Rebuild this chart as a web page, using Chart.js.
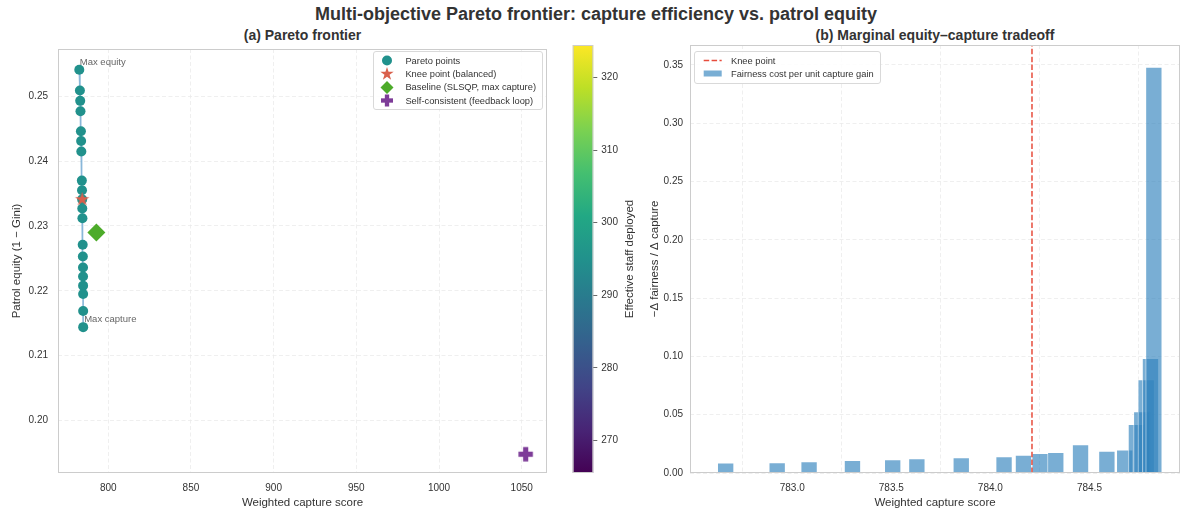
<!DOCTYPE html>
<html lang="en">
<head>
<meta charset="UTF-8">
<title>Pareto frontier</title>
<script src="https://cdn.jsdelivr.net/npm/chart.js"></script>
<style>
  body { margin: 0; background: #fff; font-family: "Liberation Sans", Arial, sans-serif; color: #333; }
  #page { position: relative; width: 1192px; height: 510px; overflow: hidden; }
  canvas { position: absolute; }
  .suptitle { position: absolute; left: 0; top: 4px; width: 1192px; text-align: center; font-weight: bold; font-size: 18px; line-height: 20px; }
  .subtitle { position: absolute; top: 27px; text-align: center; font-weight: bold; font-size: 14px; line-height: 16px; }
  .legend { position: absolute; border: 1px solid #d9d9d9; border-radius: 3px; background: rgba(255,255,255,0.85); font-size: 9.3px; padding: 2px 6px 2px 0; }
  .legend .row { display: flex; align-items: center; height: 13.3px; white-space: nowrap; }
  .legend canvas { position: static; flex: none; margin-right: 4px; }
</style>
</head>
<body>
<div id="page">
  <div class="suptitle">Multi-objective Pareto frontier: capture efficiency vs. patrol equity</div>
  <div class="subtitle" style="left:58px;width:489px">(a) Pareto frontier</div>
  <div class="subtitle" style="left:690px;width:490px">(b) Marginal equity–capture tradeoff</div>

  <canvas id="left" width="560" height="470" style="left:0;top:40px"></canvas>
  <canvas id="cbar" width="80" height="470" style="left:560px;top:40px"></canvas>
  <canvas id="right" width="552" height="470" style="left:640px;top:40px"></canvas>

  <div class="legend" id="legLeft" style="right:649px;top:51px"></div>
  <div class="legend" id="legRight" style="left:694px;top:51px"></div>
</div>

<script>
// Pareto frontier (panel a), sorted by capture
const captureScore = [782.47, 782.85, 783.03, 783.19, 783.45, 783.58, 783.70, 784.02, 784.12, 784.21,
                      784.29, 784.37, 784.53, 784.63, 784.72, 784.75, 784.775, 784.79, 784.815, 784.83];
const patrolEquity = [0.2541, 0.2509, 0.2493, 0.2477, 0.2446, 0.2431, 0.2415, 0.2370, 0.2355, 0.2341,
                      0.2327, 0.2312, 0.2271, 0.2253, 0.2236, 0.2222, 0.2208, 0.2195, 0.2169, 0.2144];
const staffDeployed = [295, 295, 295, 295, 295, 295, 295, 295, 295, 295,
                       295, 295, 295, 295, 295, 295, 295, 295, 295, 295];
const kneeIndex = 9;
const baselinePoint = { x: 792.8, y: 0.2290 };
const selfConsistentPoint = { x: 1052.4, y: 0.1948 };

// marginal tradeoff (panel b)
const barCapture = [782.664, 782.924, 783.085, 783.304, 783.507, 783.629, 783.853, 784.069, 784.167, 784.251,
                    784.330, 784.455, 784.588, 784.678, 784.737, 784.764, 784.786, 784.808, 784.825];
const barCost = [0.0086, 0.0088, 0.0097, 0.0106, 0.0114, 0.0123, 0.0131, 0.0140, 0.0152, 0.0166,
                 0.0176, 0.0243, 0.0186, 0.0197, 0.0416, 0.0526, 0.0800, 0.0982, 0.3478];

// axes
const leftXRange = [769.6, 1065.3];
const leftYRange = [0.1919, 0.2573];
const leftXTicks = [800, 850, 900, 950, 1000, 1050];
const leftYTicks = [0.20, 0.21, 0.22, 0.23, 0.24, 0.25];
const cbRange = [265.5, 324.5];
const cbTicks = [270, 280, 290, 300, 310, 320];
const rightXRange = [782.484, 784.957];
const rightYRange = [0, 0.367];
const rightXTicks = [783.0, 783.5, 784.0, 784.5];
const rightYTicks = [0, 0.05, 0.10, 0.15, 0.20, 0.25, 0.30, 0.35];

const viridis = ['#440154', '#482475', '#414487', '#355f8d', '#2a788e', '#21918c',
                 '#22a884', '#44bf70', '#7ad151', '#bddf26', '#fde725'];

const FONT = '"Liberation Sans", Arial, sans-serif';
Chart.defaults.font.family = FONT;
Chart.defaults.font.size = 10;
Chart.defaults.color = '#333';
Chart.defaults.animation = false;
Chart.defaults.events = [];
Chart.defaults.plugins.legend.display = false;
Chart.defaults.plugins.tooltip.enabled = false;

function hexToRgb(h) {
  return [parseInt(h.slice(1, 3), 16), parseInt(h.slice(3, 5), 16), parseInt(h.slice(5, 7), 16)];
}
function viridisAt(t) {
  t = Math.max(0, Math.min(1, t));
  const p = t * (viridis.length - 1), i = Math.min(Math.floor(p), viridis.length - 2), f = p - i;
  const a = hexToRgb(viridis[i]), b = hexToRgb(viridis[i + 1]);
  return 'rgb(' + a.map((v, k) => Math.round(v + (b[k] - v) * f)).join(',') + ')';
}

// marker shapes
function drawCircle(ctx, cx, cy, r, color) {
  ctx.beginPath(); ctx.arc(cx, cy, r, 0, Math.PI * 2); ctx.fillStyle = color; ctx.fill();
}
function drawStar(ctx, cx, cy, r, color) {
  ctx.beginPath();
  for (let i = 0; i < 10; i++) {
    const a = -Math.PI / 2 + i * Math.PI / 5;
    const rr = i % 2 ? r * 0.382 : r;
    ctx.lineTo(cx + rr * Math.cos(a), cy + rr * Math.sin(a));
  }
  ctx.closePath(); ctx.fillStyle = color; ctx.fill();
}
function drawDiamond(ctx, cx, cy, r, color) {
  ctx.beginPath();
  ctx.moveTo(cx, cy - r); ctx.lineTo(cx + r, cy); ctx.lineTo(cx, cy + r); ctx.lineTo(cx - r, cy);
  ctx.closePath(); ctx.fillStyle = color; ctx.fill();
}
function drawPlus(ctx, cx, cy, r, color) {
  const t = r * 0.36;
  ctx.fillStyle = color;
  ctx.fillRect(cx - r, cy - t, 2 * r, 2 * t);
  ctx.fillRect(cx - t, cy - r, 2 * t, 2 * r);
}
function markerCanvas(fn, r, color) {
  const c = document.createElement('canvas');
  const s = Math.ceil(2 * r + 2);
  c.width = s; c.height = s;
  fn(c.getContext('2d'), s / 2, s / 2, r, color);
  return c;
}

const PARETO = viridisAt((staffDeployed[0] - cbRange[0]) / (cbRange[1] - cbRange[0]));
const KNEE = '#d9604c', BASE = '#4dab2a', SELF = '#7d3c98';
const starImg = markerCanvas(drawStar, 7.5, KNEE);
const plusImg = markerCanvas(drawPlus, 7.2, SELF);

const frame = {
  id: 'frame',
  afterDraw(chart) {
    const a = chart.chartArea, ctx = chart.ctx;
    ctx.save();
    ctx.strokeStyle = '#cccccc'; ctx.lineWidth = 1;
    ctx.strokeRect(a.left + 0.5, a.top + 0.5, a.right - a.left - 1, a.bottom - a.top - 1);
    ctx.restore();
  }
};

function fixedTicks(list) {
  return s => { s.ticks = list.map(v => ({ value: v })); };
}
// fix the axis box size and drop label overhang padding
function fitBox(w, h) {
  return s => {
    if (w !== null) s.width = w;
    if (h !== null) s.height = h;
    s.paddingTop = 0; s.paddingBottom = 0; s.paddingLeft = 0; s.paddingRight = 0;
  };
}
const gridStyle = { color: '#ebebeb', lineWidth: 0.8, drawTicks: false };
const borderStyle = { display: false, dash: [4, 2.5] };

// ---- panel a ----
const pareto = captureScore.map((c, i) => ({ x: c, y: patrolEquity[i] }));
const annotations = [
  { text: 'Max equity', x: captureScore[0], y: patrolEquity[0], dx: 0.5, dy: -5 },
  { text: 'Max capture', x: captureScore[captureScore.length - 1], y: patrolEquity[patrolEquity.length - 1], dx: 1, dy: -5 }
];
const annotate = {
  id: 'annotate',
  afterDatasetsDraw(chart) {
    const { ctx, scales: { x, y } } = chart;
    ctx.save();
    ctx.font = '9.5px ' + FONT; ctx.fillStyle = '#666';
    annotations.forEach(a => ctx.fillText(a.text, x.getPixelForValue(a.x) + a.dx, y.getPixelForValue(a.y) + a.dy));
    ctx.restore();
  }
};

new Chart(document.getElementById('left'), {
  type: 'scatter',
  data: {
    datasets: [
      { data: pareto, showLine: true, borderColor: 'rgba(74,144,196,0.65)', borderWidth: 1.6, pointRadius: 0, order: 5 },
      { label: 'Pareto points', data: pareto, pointRadius: 5, backgroundColor: staffDeployed.map(s => viridisAt((s - cbRange[0]) / (cbRange[1] - cbRange[0]))), borderWidth: 0, order: 4 },
      { label: 'Knee point (balanced)', data: [pareto[kneeIndex]], pointStyle: starImg, order: 3 },
      { label: 'Baseline (SLSQP, max capture)', data: [baselinePoint], pointStyle: 'rectRot', pointRadius: 9, backgroundColor: BASE, borderWidth: 0, order: 2 },
      { label: 'Self-consistent (feedback loop)', data: [selfConsistentPoint], pointStyle: plusImg, order: 1 }
    ]
  },
  options: {
    responsive: false,
    layout: { padding: { top: 5, right: 13, bottom: 0, left: 0 } },
    scales: {
      x: {
        type: 'linear', min: leftXRange[0], max: leftXRange[1],
        afterBuildTicks: fixedTicks(leftXTicks), afterFit: fitBox(null, 37),
        ticks: { padding: 9, autoSkip: false, maxRotation: 0, callback: v => String(v) },
        grid: gridStyle, border: borderStyle,
        title: { display: true, text: 'Weighted capture score', font: { size: 11.5 }, padding: { top: 0, bottom: 0 } }
      },
      y: {
        min: leftYRange[0], max: leftYRange[1],
        afterBuildTicks: fixedTicks(leftYTicks), afterFit: fitBox(58, null),
        ticks: { padding: 10, callback: v => v.toFixed(2) },
        grid: gridStyle, border: borderStyle,
        title: { display: true, text: 'Patrol equity (1 − Gini)', font: { size: 11.5 }, padding: { top: 10, bottom: 0 } }
      }
    }
  },
  plugins: [annotate, frame]
});

// ---- colour bar ----
const cbLabel = {
  id: 'cbLabel',
  afterDraw(chart) {
    const ctx = chart.ctx, a = chart.chartArea;
    ctx.save();
    ctx.translate(70, (a.top + a.bottom) / 2);
    ctx.rotate(-Math.PI / 2);
    ctx.textAlign = 'center'; ctx.textBaseline = 'middle';
    ctx.font = '11.5px ' + FONT; ctx.fillStyle = '#333';
    ctx.fillText('Effective staff deployed', 0, 0);
    ctx.restore();
  }
};
new Chart(document.getElementById('cbar'), {
  type: 'bar',
  data: {
    labels: [''],
    datasets: [{
      data: [cbRange],
      barPercentage: 1, categoryPercentage: 1, borderWidth: 0,
      backgroundColor: c => {
        const a = c.chart.chartArea;
        if (!a) return PARETO;
        const g = c.chart.ctx.createLinearGradient(0, a.bottom, 0, a.top);
        viridis.forEach((col, i) => g.addColorStop(i / (viridis.length - 1), col));
        return g;
      }
    }]
  },
  options: {
    responsive: false,
    layout: { padding: { top: 5, right: 0, bottom: 37, left: 12.7 } },
    scales: {
      x: { display: false },
      y: {
        position: 'right', min: cbRange[0], max: cbRange[1],
        afterBuildTicks: fixedTicks(cbTicks), afterFit: fitBox(46.7, null),
        ticks: { padding: 4 },
        grid: { drawOnChartArea: false, drawTicks: true, tickLength: 4, tickColor: '#444', tickWidth: 0.8 },
        border: { display: false }
      }
    }
  },
  plugins: [frame, cbLabel]
});

// ---- panel b ----
new Chart(document.getElementById('right'), {
  type: 'bar',
  data: {
    datasets: [
      { type: 'line', label: 'Knee point', data: [{ x: captureScore[kneeIndex], y: rightYRange[0] }, { x: captureScore[kneeIndex], y: rightYRange[1] }],
        borderColor: '#e74c3c', borderWidth: 1.5, borderDash: [5.5, 2.4], pointRadius: 0, order: 0 },
      { label: 'Fairness cost per unit capture gain', data: barCapture.map((c, i) => ({ x: c, y: barCost[i] })),
        backgroundColor: 'rgba(49,130,189,0.65)', borderColor: 'rgba(255,255,255,0.6)', borderWidth: 0.8,
        barThickness: 16.3, order: 1 }
    ]
  },
  options: {
    responsive: false,
    layout: { padding: { top: 5, right: 12, bottom: 0, left: 0 } },
    scales: {
      x: {
        type: 'linear', offset: false, min: rightXRange[0], max: rightXRange[1],
        afterBuildTicks: fixedTicks(rightXTicks), afterFit: fitBox(null, 37),
        ticks: { padding: 9, autoSkip: false, maxRotation: 0, callback: v => v.toFixed(1) },
        grid: gridStyle, border: borderStyle,
        title: { display: true, text: 'Weighted capture score', font: { size: 11.5 }, padding: { top: 0, bottom: 0 } }
      },
      y: {
        min: rightYRange[0], max: rightYRange[1],
        afterBuildTicks: fixedTicks(rightYTicks), afterFit: fitBox(50, null),
        ticks: { padding: 7, callback: v => v.toFixed(2) },
        grid: gridStyle, border: borderStyle,
        title: { display: true, text: '−Δ fairness / Δ capture', font: { size: 11.5 }, padding: { top: 8.4, bottom: 0 } }
      }
    }
  },
  plugins: [frame]
});

// ---- legends ----
function legend(id, rows, w) {
  const box = document.getElementById(id);
  rows.forEach(r => {
    const row = document.createElement('div');
    row.className = 'row';
    const c = document.createElement('canvas');
    c.width = w; c.height = 13;
    r.draw(c.getContext('2d'));
    row.appendChild(c);
    const t = document.createElement('span');
    t.textContent = r.label;
    row.appendChild(t);
    box.appendChild(row);
  });
}
legend('legLeft', [
  { label: 'Pareto points', draw: ctx => drawCircle(ctx, 13, 6.5, 5, PARETO) },
  { label: 'Knee point (balanced)', draw: ctx => drawStar(ctx, 13, 7, 7, KNEE) },
  { label: 'Baseline (SLSQP, max capture)', draw: ctx => drawDiamond(ctx, 13, 6.5, 6.5, BASE) },
  { label: 'Self-consistent (feedback loop)', draw: ctx => drawPlus(ctx, 13, 6.5, 6, SELF) }
], 27);
legend('legRight', [
  { label: 'Knee point', draw: ctx => { ctx.strokeStyle = '#e74c3c'; ctx.lineWidth = 1.5; ctx.setLineDash([5.5, 2.4]); ctx.beginPath(); ctx.moveTo(8.7, 6.5); ctx.lineTo(26.7, 6.5); ctx.stroke(); } },
  { label: 'Fairness cost per unit capture gain', draw: ctx => { ctx.fillStyle = 'rgba(49,130,189,0.65)'; ctx.fillRect(8.7, 3.5, 18, 6); } }
], 32);
</script>
</body>
</html>
